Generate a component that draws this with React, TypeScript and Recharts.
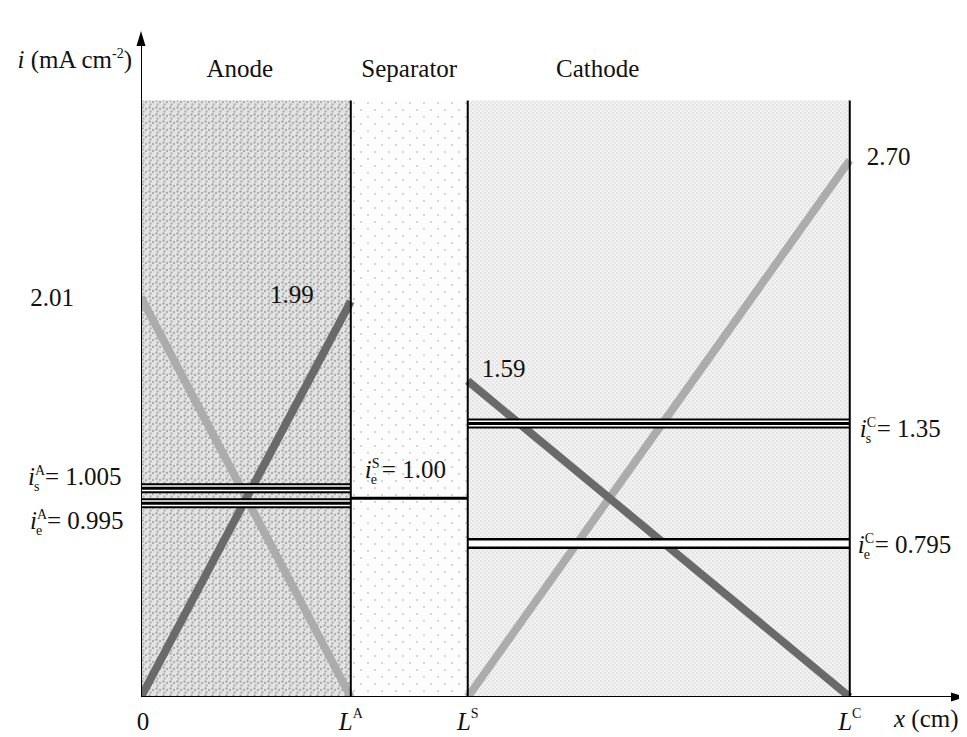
import { ComposedChart, Line, XAxis, YAxis, ReferenceArea, ReferenceDot } from 'recharts'

const SERIF = "'Liberation Serif', 'Times New Roman', Times, serif"
const FONT = 25
const SMALL = 14
const textStyle = { fontFamily: SERIF }

// x positions of the boundaries 0, L^A, L^S, L^C (schematic length units)
const boundaryX = [0, 0.296, 0.461, 1.0]
const boundarySup = ['', 'A', 'S', 'C']
const regionNames = ['Anode', 'Separator', 'Cathode']
const X_MAX = 1.164
const Y_MAX = 3.35
const Y_TOP = 3.0

// current densities (mA cm-2) at the ends of each region
const anodeLight = [2.01, 0]
const anodeDark = [0, 1.99]
const cathodeLight = [0, 2.7]
const cathodeDark = [1.59, 0]

// horizontal levels, drawn where they sit in the picture
const separatorLevel = 1.0
const anodeLevels = [1.05, 0.975]
const cathodeLevels = [1.376, 0.772]
const levelTexts = ['1.005', '0.995', '1.00', '1.35', '0.795']

const [X0, LA, LS, LC] = boundaryX

function seg(x0: number, x1: number, y0: number, y1: number) {
  return [
    { x: x0, y: y0 },
    { x: x1, y: y1 }
  ]
}

function line(key: string, data: { x: number; y: number }[], stroke: string, width: number) {
  return (
    <Line
      key={key}
      data={data}
      dataKey="y"
      type="linear"
      stroke={stroke}
      strokeWidth={width}
      dot={false}
      activeDot={false}
      isAnimationActive={false}
      legendType="none"
    />
  )
}

function tripleLine(key: string, x0: number, x1: number, y: number) {
  const d = seg(x0, x1, y, y)
  return [line(key + 'a', d, '#000', 10), line(key + 'b', d, '#fff', 6), line(key + 'c', d, '#000', 3)]
}

function doubleLine(key: string, x0: number, x1: number, y: number) {
  const d = seg(x0, x1, y, y)
  return [line(key + 'a', d, '#000', 11), line(key + 'b', d, '#fff', 6)]
}

function textDot(key: string, x: number, y: number, render: (cx: number, cy: number) => JSX.Element) {
  return (
    <ReferenceDot
      key={key}
      x={x}
      y={y}
      r={1}
      fill="none"
      stroke="none"
      ifOverflow="visible"
      shape={(p: any) => render(p.cx, p.cy)}
    />
  )
}

function currentLabel(x: number, y: number, sup: string, sub: string, value: string) {
  return (
    <g style={textStyle} fill="#111">
      <text x={x} y={y} fontSize={FONT} fontStyle="italic" style={textStyle}>
        i
      </text>
      <text x={x + 7} y={y - 10} fontSize={SMALL} style={textStyle}>
        {sup}
      </text>
      <text x={x + 6} y={y + 6} fontSize={SMALL} style={textStyle}>
        {sub}
      </text>
      <text x={x + 17} y={y} fontSize={FONT} style={textStyle}>
        = {value}
      </text>
    </g>
  )
}

function plainLabel(x: number, y: number, text: string, anchor: 'start' | 'middle' | 'end') {
  return (
    <text x={x} y={y} fontSize={FONT} style={textStyle} fill="#111" textAnchor={anchor}>
      {text}
    </text>
  )
}

function Patterns() {
  return (
    <svg width={0} height={0} style={{ position: 'absolute' }}>
      <defs>
        <pattern id="anodeFill" patternUnits="userSpaceOnUse" width={7} height={7}>
          <rect width={7} height={7} fill="#e4e4e4" />
          <circle cx={1.5} cy={1.5} r={1.2} fill="#a9a9a9" />
          <circle cx={5} cy={3} r={1.2} fill="#adadad" />
          <circle cx={2.5} cy={5.5} r={1.2} fill="#b3b3b3" />
        </pattern>
        <pattern id="sepFill" patternUnits="userSpaceOnUse" width={14} height={14}>
          <rect width={14} height={14} fill="#fdfdfd" />
          <circle cx={3} cy={4} r={0.9} fill="#c4c4c4" />
          <circle cx={10} cy={11} r={0.9} fill="#c4c4c4" />
        </pattern>
        <pattern id="cathFill" patternUnits="userSpaceOnUse" width={4} height={4}>
          <rect width={4} height={4} fill="#f3f3f3" />
          <circle cx={1} cy={1} r={0.75} fill="#cdcdcd" />
          <circle cx={3} cy={3} r={0.75} fill="#d4d4d4" />
        </pattern>
      </defs>
    </svg>
  )
}

export default function App() {
  const LIGHT = '#acacac'
  const DARK = '#6a6a6a'

  return (
    <div style={{ width: 959, height: 729, fontFamily: SERIF }}>
      <Patterns />
      <ComposedChart width={959} height={729} margin={{ top: 23, right: 1, bottom: 40, left: 133 }}>
        <XAxis type="number" dataKey="x" domain={[0, X_MAX]} hide allowDataOverflow />
        <YAxis type="number" domain={[0, Y_MAX]} hide allowDataOverflow />

        <ReferenceArea x1={X0} x2={LA} y1={0} y2={Y_TOP} fill="url(#anodeFill)" fillOpacity={1} stroke="none" />
        <ReferenceArea x1={LA} x2={LS} y1={0} y2={Y_TOP} fill="url(#sepFill)" fillOpacity={1} stroke="none" />
        <ReferenceArea x1={LS} x2={LC} y1={0} y2={Y_TOP} fill="url(#cathFill)" fillOpacity={1} stroke="none" />

        {line('aL', seg(X0, LA, anodeLight[0], anodeLight[1]), LIGHT, 8)}
        {line('aD', seg(X0, LA, anodeDark[0], anodeDark[1]), DARK, 8)}
        {line('cL', seg(LS, LC, cathodeLight[0], cathodeLight[1]), LIGHT, 8)}
        {line('cD', seg(LS, LC, cathodeDark[0], cathodeDark[1]), DARK, 8)}

        {tripleLine('as', X0, LA, anodeLevels[0])}
        {tripleLine('ae', X0, LA, anodeLevels[1])}
        {line('se', seg(LA, LS, separatorLevel, separatorLevel), '#000', 3)}
        {tripleLine('cs', LS, LC, cathodeLevels[0])}
        {doubleLine('ce', LS, LC, cathodeLevels[1])}

        {boundaryX.slice(1).map((b) => line('v' + b, seg(b, b, 0, Y_TOP), '#000', 2))}
        {line('yAxis', seg(0, 0, 0, Y_MAX - 0.04), '#000', 2)}
        {line('xAxis', seg(0, X_MAX - 0.012, 0, 0), '#000', 2)}

        {textDot('yArrow', 0, Y_MAX, (cx, cy) => (
          <path d={`M${cx},${cy} L${cx - 4.5},${cy + 15} L${cx + 4.5},${cy + 15} Z`} fill="#000" />
        ))}
        {textDot('xArrow', X_MAX, 0, (cx, cy) => (
          <path d={`M${cx},${cy} L${cx - 15},${cy - 4.5} L${cx - 15},${cy + 4.5} Z`} fill="#000" />
        ))}

        {textDot('yTitle', 0, Y_TOP, (cx, cy) => (
          <text x={cx - 9} y={cy - 33} fontSize={FONT} style={textStyle} fill="#111" textAnchor="end">
            <tspan fontStyle="italic">i</tspan>
            <tspan> (mA cm</tspan>
            <tspan fontSize={SMALL} dy={-10}>
              -2
            </tspan>
            <tspan dy={10}>)</tspan>
          </text>
        ))}
        {textDot('xTitle', X_MAX, 0, (cx, cy) => (
          <text x={cx - 72} y={cy + 30} fontSize={FONT} style={textStyle} fill="#111" textAnchor="start">
            <tspan fontStyle="italic">x</tspan>
            <tspan> (cm)</tspan>
          </text>
        ))}

        {textDot('rA', LA / 2, Y_TOP, (cx, cy) => plainLabel(cx - 6, cy - 24, regionNames[0], 'middle'))}
        {textDot('rS', (LA + LS) / 2, Y_TOP, (cx, cy) => plainLabel(cx, cy - 24, regionNames[1], 'middle'))}
        {textDot('rC', LS, Y_TOP, (cx, cy) => plainLabel(cx + 130, cy - 24, regionNames[2], 'middle'))}

        {textDot('b0', X0, 0, (cx, cy) => plainLabel(cx + 2, cy + 33, '0', 'middle'))}
        {boundaryX.slice(1).map((b, i) =>
          textDot('b' + b, b, 0, (cx, cy) => (
            <text x={cx} y={cy + 33} fontSize={FONT} style={textStyle} fill="#111" textAnchor="middle">
              <tspan fontStyle="italic">L</tspan>
              <tspan fontSize={SMALL} dy={-12}>
                {boundarySup[i + 1]}
              </tspan>
            </text>
          ))
        )}

        {textDot('v201', X0, anodeLight[0], (cx, cy) => plainLabel(cx - 67, cy + 9, '2.01', 'end'))}
        {textDot('v199', LA, anodeDark[1], (cx, cy) => plainLabel(cx - 37, cy + 2, '1.99', 'end'))}
        {textDot('v159', LS, cathodeDark[0], (cx, cy) => plainLabel(cx + 14, cy - 4, '1.59', 'start'))}
        {textDot('v270', LC, cathodeLight[1], (cx, cy) => plainLabel(cx + 17, cy + 5, '2.70', 'start'))}

        {textDot('lAs', X0, anodeLevels[0], (cx, cy) => currentLabel(cx - 113, cy - 3, 'A', 's', levelTexts[0]))}
        {textDot('lAe', X0, anodeLevels[1], (cx, cy) => currentLabel(cx - 111, cy + 26, 'A', 'e', levelTexts[1]))}
        {textDot('lSe', LA, separatorLevel, (cx, cy) => currentLabel(cx + 14, cy - 20, 'S', 'e', levelTexts[2]))}
        {textDot('lCs', LC, cathodeLevels[0], (cx, cy) => currentLabel(cx + 10, cy + 14, 'C', 's', levelTexts[3]))}
        {textDot('lCe', LC, cathodeLevels[1], (cx, cy) => currentLabel(cx + 8, cy + 9, 'C', 'e', levelTexts[4]))}
      </ComposedChart>
    </div>
  )
}
